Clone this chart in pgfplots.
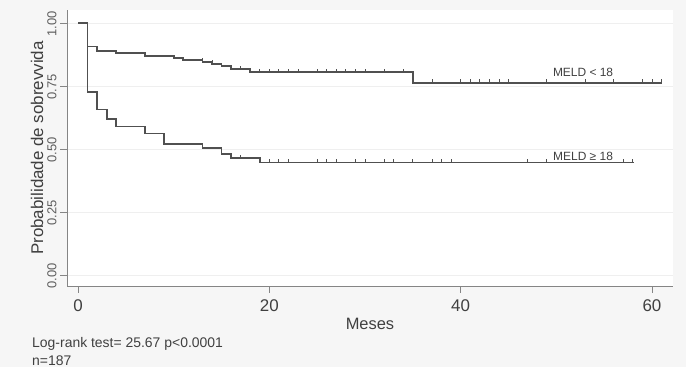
\documentclass[border=0pt]{standalone}
\usepackage{pgfplots}
\pgfplotsset{compat=1.18}
\usepackage{fontspec}
\setmainfont{Liberation Sans}
\definecolor{bgc}{HTML}{F6F6F6}
\definecolor{curve}{HTML}{505050}
\definecolor{axc}{HTML}{858585}
\definecolor{txt}{HTML}{404040}
\definecolor{gridc}{HTML}{EFEFEF}
\pgfdeclareplotmark{cens}{\pgfpathmoveto{\pgfqpoint{0pt}{0pt}}\pgfpathlineto{\pgfqpoint{0pt}{3.6bp}}\pgfusepathqstroke}
\begin{document}
\begin{tikzpicture}
\useasboundingbox (0,0) rectangle (686bp,367bp);
\fill[bgc] (0,0) rectangle (686bp,367bp);
\begin{axis}[
  at={(67bp,81bp)}, anchor=south west,
  scale only axis, width=606bp, height=276bp,
  xmin=-1.15, xmax=62.2, ymin=-0.0437, ymax=1.0516,
  axis lines*=left,
  axis line style={axc, line width=0.9bp},
  axis background/.style={fill=white},
  xtick={0,20,40,60}, ytick={0,0.25,0.5,0.75,1},
  yticklabels={0.00,0.25,0.50,0.75,1.00},
  tick align=outside, major tick length=7bp,
  tick style={axc, line width=0.8bp},
  ymajorgrids, grid style={gridc, line width=0.6bp},
  /pgf/number format/assume math mode=true,
  xticklabel style={font=\fontsize{17}{17}\selectfont, text=txt, yshift=-3bp},
  yticklabel style={font=\fontsize{13}{13}\selectfont, text=txt!85, rotate=90, anchor=south, xshift=-1bp},
  xlabel={Meses},
  xlabel style={at={(axis description cs:0.5,-0.159)}, anchor=base, font=\fontsize{16.5}{16.5}\selectfont, text=txt},
  ylabel={Probabilidade de sobrevvida},
  ylabel style={at={(axis description cs:-0.0495,0.5)}, anchor=center, rotate=0, font=\fontsize{17}{17}\selectfont, text=txt},
  clip=false,
]
% MELD < 18
\addplot[const plot, curve, line width=1.7bp] coordinates {
 (0,1) (1,0.907) (2,0.889) (4,0.882) (7,0.870) (10,0.862) (11,0.853)
 (13,0.845) (14,0.837) (15,0.828) (16,0.817) (18,0.805) (35,0.763) (61,0.763)};
% MELD >= 18
\addplot[const plot, curve, line width=1.7bp] coordinates {
 (0,1) (1,0.725) (2,0.657) (3,0.618) (4,0.589) (7,0.562) (9,0.520)
 (13,0.505) (15,0.479) (16,0.463) (19,0.446) (58.1,0.446)};
% censored, MELD < 18
\addplot[only marks, mark=cens, curve, line width=0.8bp] coordinates {
 (13,0.845) (14.1,0.837) (17,0.817)
 (19,0.805) (20,0.805) (21,0.805) (22,0.805) (23,0.805) (25,0.805) (26,0.805)
 (27,0.805) (28,0.805) (29,0.805) (30,0.805) (32,0.805) (34,0.805)
 (37,0.763) (40,0.763) (41,0.763) (42,0.763) (43,0.763) (44,0.763) (45,0.763)
 (49,0.763) (53,0.763) (56,0.763) (59,0.763) (60,0.763) (61,0.763)};
% censored, MELD >= 18
\addplot[only marks, mark=cens, curve, line width=0.8bp] coordinates {
 (17,0.463)
 (20,0.446) (21,0.446) (22,0.446) (25,0.446) (26,0.446) (27,0.446) (29,0.446)
 (30,0.446) (32,0.446) (33,0.446) (35,0.446) (37,0.446) (38,0.446) (39,0.446)
 (47,0.446) (49,0.446) (57,0.446) (58,0.446)};
\node[anchor=base, font=\fontsize{12}{12}\selectfont, text=txt, inner sep=0pt] at (axis cs:52.8,0.787) {MELD < 18};
\node[anchor=base, font=\fontsize{12}{12}\selectfont, text=txt, inner sep=0pt] at (axis cs:52.8,0.456) {MELD ≥ 18};
\end{axis}
\node[anchor=base west, inner sep=0pt, font=\fontsize{14}{14}\selectfont, text=txt] at (32bp,20bp) {Log-rank test= 25.67 p<0.0001};
\node[anchor=base west, inner sep=0pt, font=\fontsize{14}{14}\selectfont, text=txt] at (32bp,2bp) {n=187};
\end{tikzpicture}
\end{document}
